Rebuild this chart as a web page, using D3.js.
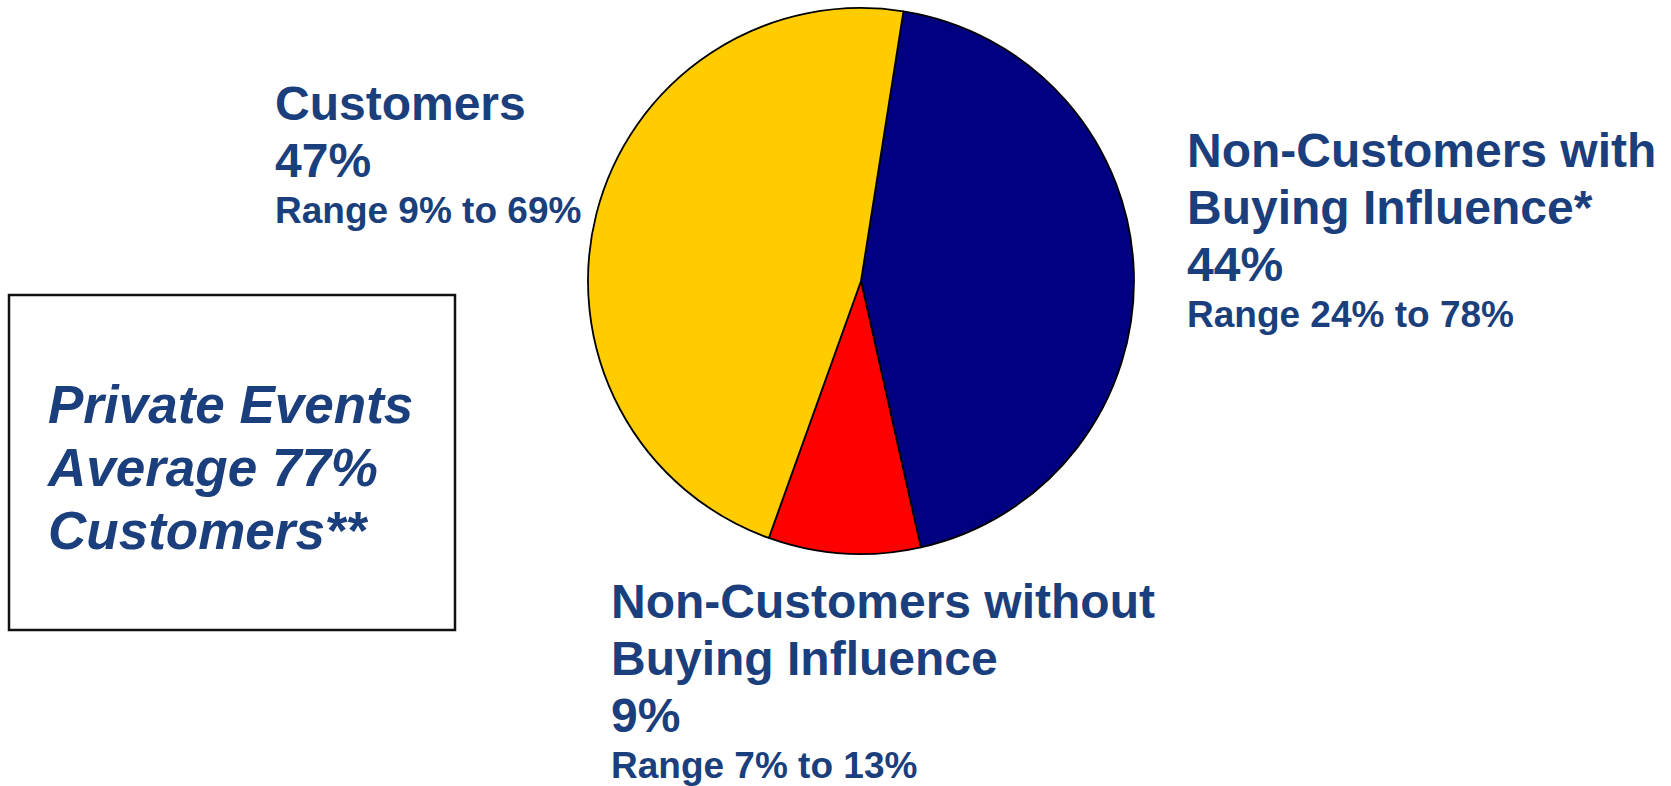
<!DOCTYPE html>
<html>
<head>
<meta charset="utf-8">
<script src="https://cdn.jsdelivr.net/npm/d3@7"></script>
<style>
  html, body { margin: 0; padding: 0; background: #ffffff; }
  svg { display: block; }
</style>
</head>
<body>
<div id="chart"></div>
<script>
(function IIFE() {
    'use strict';
    var w = 1671;
    var h = 786;

    // segments, clockwise from just right of 12 o'clock
    var segments = ["Non-Customers with Buying Influence*", "Non-Customers without Buying Influence", "Customers"];
    var shares = [44, 9, 47];
    var ranges = ["Range 24% to 78%", "Range 7% to 13%", "Range 9% to 69%"];
    var labelLines = [
        ["Non-Customers with", "Buying Influence*"],
        ["Non-Customers without", "Buying Influence"],
        ["Customers"]
    ];
    var noteLines = ["Private Events", "Average 77%", "Customers**"];

    var colors = ["#000080", "#ff0000", "#ffcc00"];
    var textColor = "#1b3f7d";
    var font = "'Liberation Sans', Arial, sans-serif";

    var cx = 861, cy = 281, r = 273;
    // where each label block starts (x, first baseline)
    var labelPos = [[1187, 167], [611, 618], [275, 120]];

    var svg = d3.select("#chart")
        .append("svg")
        .attr("width", w)
        .attr("height", h);

    var data = segments.map(function (s, i) {
        return { name: s, value: shares[i], range: ranges[i], lines: labelLines[i], color: colors[i] };
    });

    var pie = d3.pie()
        .sort(null)
        .value(function (d) { return d.value; })
        .startAngle(0.156)
        .endAngle(0.156 + 2 * Math.PI);

    var arc = d3.arc().innerRadius(0).outerRadius(r);

    svg.append("g")
        .attr("transform", "translate(" + cx + "," + cy + ")")
        .selectAll("path")
        .data(pie(data))
        .enter()
        .append("path")
        .attr("d", arc)
        .attr("fill", function (d) { return d.data.color; })
        .attr("stroke", "#000")
        .attr("stroke-width", 1.8)
        .attr("stroke-linejoin", "round");

    // labels
    data.forEach(function (d, i) {
        var g = svg.append("g")
            .attr("transform", "translate(" + labelPos[i][0] + "," + labelPos[i][1] + ")")
            .attr("font-family", font)
            .attr("font-weight", "bold")
            .attr("fill", textColor);
        var y = 0;
        d.lines.forEach(function (line) {
            g.append("text").attr("x", 0).attr("y", y)
                .attr("font-size", "48px").text(line);
            y += 57;
        });
        g.append("text").attr("x", 0).attr("y", y)
            .attr("font-size", "48px").text(d.value + "%");
        y += 46;
        g.append("text").attr("x", 0).attr("y", y)
            .attr("font-size", "37px").text(d.range);
    });

    // note box
    svg.append("rect")
        .attr("x", 9)
        .attr("y", 295)
        .attr("width", 446)
        .attr("height", 335)
        .attr("fill", "#fff")
        .attr("stroke", "#111")
        .attr("stroke-width", 2.5);

    svg.selectAll("text.note")
        .data(noteLines)
        .enter()
        .append("text")
        .attr("class", "note")
        .attr("x", 48)
        .attr("y", function (d, i) { return 423 + i * 63; })
        .attr("font-family", font)
        .attr("font-weight", "bold")
        .attr("font-style", "italic")
        .attr("font-size", "53px")
        .attr("fill", textColor)
        .text(function (d) { return d; });
}());
</script>
</body>
</html>
